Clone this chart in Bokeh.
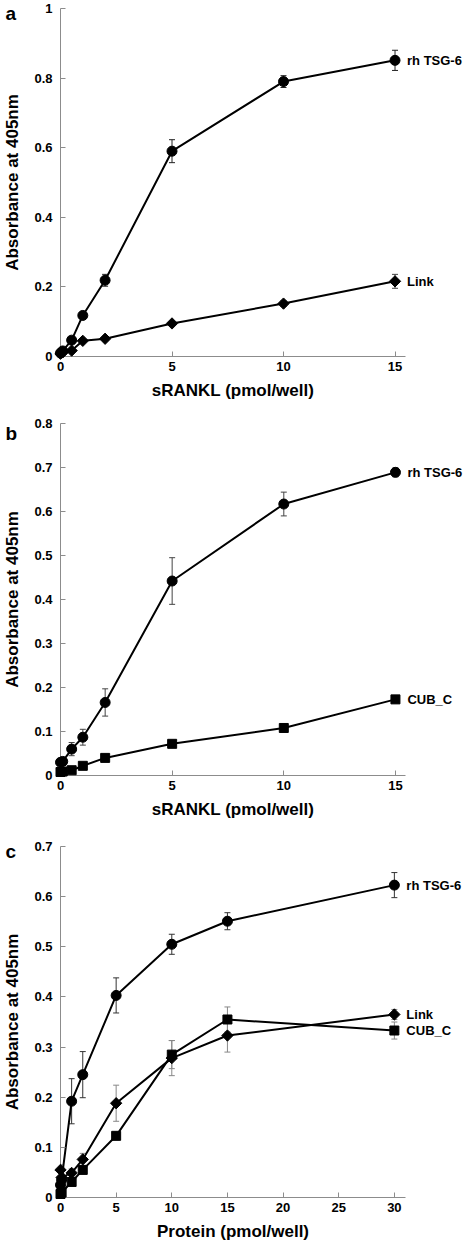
import numpy as np
from bokeh.plotting import figure
from bokeh.layouts import column
from bokeh.models import ColumnDataSource, Whisker, TeeHead, FixedTicker, Range1d
from bokeh.core.properties import value
from bokeh.embed import file_html
from bokeh.resources import INLINE

FONT = "Liberation Sans"

# ---------------- data ----------------
# panel a
a_x = [0, 0.1, 0.5, 1, 2, 5, 10, 15]
a_tsg = [0.010, 0.016, 0.047, 0.118, 0.219, 0.590, 0.790, 0.851]
a_tsg_err = [0.003, 0.004, 0.006, 0.010, 0.017, 0.033, 0.017, 0.029]
a_link = [0.008, 0.012, 0.017, 0.045, 0.051, 0.095, 0.152, 0.216]
a_link_err = [0.002, 0.002, 0.003, 0.004, 0.004, 0.006, 0.008, 0.020]
a_xticks = [0, 5, 10, 15]
a_yticks = [0, 0.2, 0.4, 0.6, 0.8, 1.0]
a_ylabels = ["0", "0.2", "0.4", "0.6", "0.8", "1"]

# panel b
b_x = [0, 0.1, 0.5, 1, 2, 5, 10, 15]
b_tsg = [0.030, 0.032, 0.060, 0.087, 0.166, 0.442, 0.617, 0.689]
b_tsg_err = [0.004, 0.004, 0.015, 0.018, 0.031, 0.053, 0.027, 0.010]
b_cub = [0.008, 0.009, 0.012, 0.022, 0.040, 0.072, 0.108, 0.173]
b_cub_err = [0.002, 0.002, 0.002, 0.003, 0.003, 0.004, 0.004, 0.005]
b_xticks = [0, 5, 10, 15]
b_yticks = [0, 0.1, 0.2, 0.3, 0.4, 0.5, 0.6, 0.7, 0.8]
b_ylabels = ["0", "0.1", "0.2", "0.3", "0.4", "0.5", "0.6", "0.7", "0.8"]

# panel c
c_x = [0, 0.1, 1, 2, 5, 10, 15, 30]
c_tsg = [0.025, 0.035, 0.192, 0.245, 0.403, 0.505, 0.551, 0.623]
c_tsg_err = [0.005, 0.006, 0.045, 0.046, 0.035, 0.020, 0.017, 0.025]
c_link = [0.055, 0.040, 0.049, 0.076, 0.188, 0.278, 0.323, 0.365]
c_link_err = [0.010, 0.008, 0.008, 0.012, 0.036, 0.035, 0.033, 0.010]
c_cub = [0.007, 0.010, 0.031, 0.055, 0.123, 0.285, 0.355, 0.333]
c_cub_err = [0.002, 0.002, 0.004, 0.005, 0.008, 0.028, 0.025, 0.017]
c_xticks = [0, 5, 10, 15, 20, 25, 30]
c_yticks = [0, 0.1, 0.2, 0.3, 0.4, 0.5, 0.6, 0.7]
c_ylabels = ["0", "0.1", "0.2", "0.3", "0.4", "0.5", "0.6", "0.7"]

# ---------------- styling ----------------
FW = 345
LEFT = 55
RIGHT = 59
BOTTOM = 47
AXIS_COLOR = "#8c8c8c"

MARKERS = {
    "circle": dict(marker="circle", size=10, angle=0.0),
    "diamond": dict(marker="square", size=8, angle=np.pi / 4),
    "square": dict(marker="square", size=9, angle=0.0),
}


def make_panel(letter, letter_dy, xs, series, x_ticks, y_ticks, y_labels,
               x_end, y_top, xtitle, top_border, fh):
    kx = FW / x_end
    ky = fh / y_top
    p = figure(frame_width=FW, frame_height=fh,
               x_range=Range1d(0, x_end),
               y_range=Range1d(0, y_top),
               output_backend="svg", toolbar_location=None,
               min_border_left=LEFT, min_border_right=RIGHT,
               min_border_top=top_border, min_border_bottom=BOTTOM)
    p.outline_line_color = None
    p.grid.visible = False
    p.background_fill_color = "white"
    p.border_fill_color = "white"

    xa = p.xaxis[0]
    ya = p.yaxis[0]
    xa.ticker = FixedTicker(ticks=x_ticks)
    ya.ticker = FixedTicker(ticks=y_ticks)
    ya.major_label_overrides = {t: l for t, l in zip(y_ticks, y_labels)}
    xa.major_label_overrides = {t: str(t) for t in x_ticks}
    for ax in (xa, ya):
        ax.axis_line_color = AXIS_COLOR
        ax.axis_line_width = 1
        ax.major_tick_line_color = AXIS_COLOR
        ax.major_tick_in = 5
        ax.major_tick_out = 0
        ax.minor_tick_line_color = None
        ax.major_label_text_font = FONT
        ax.major_label_text_font_style = "bold"
        ax.major_label_text_font_size = "13px"
        ax.major_label_text_color = "black"
        ax.axis_label_text_font = FONT
        ax.axis_label_text_font_style = "bold"
        ax.axis_label_text_font_size = "17px"
        ax.axis_label_text_color = "black"
    xa.major_label_standoff = 5
    xa.axis_label_standoff = 7
    ya.major_label_standoff = 8
    ya.axis_label_standoff = 9
    xa.axis_label = xtitle
    ya.axis_label = "Absorbance at 405nm"

    for name, ys, errs, mk, ecol in series:
        p.line(xs, ys, line_color="black", line_width=2)
        src = ColumnDataSource(dict(
            x=xs,
            upper=[v + e for v, e in zip(ys, errs)],
            lower=[v - e for v, e in zip(ys, errs)],
        ))
        w = Whisker(base="x", upper="upper", lower="lower", source=src,
                    dimension="height", line_color=ecol, line_width=1,
                    upper_head=TeeHead(size=6, line_color=ecol, line_width=1),
                    lower_head=TeeHead(size=6, line_color=ecol, line_width=1))
        p.add_layout(w)
    for name, ys, errs, mk, ecol in series:
        m = MARKERS[mk]
        r = p.scatter(xs, ys, marker=m["marker"], size=m["size"], angle=m["angle"],
                      fill_color="black", line_color="black")
        r.level = "overlay"
        t = p.text(x=[xs[-1]], y=[ys[-1]], text=[name], x_offset=12,
                   text_baseline="middle", text_align="left",
                   text_font=value(FONT), text_font_style="bold",
                   text_font_size="13px", text_color="black")
        t.level = "overlay"

    lt = p.text(x=[-LEFT / kx], y=[y_top - letter_dy / ky], text=[letter],
                text_baseline="alphabetic", text_align="left",
                text_font=value(FONT), text_font_style="bold",
                text_font_size="19px", text_color="black")
    lt.level = "overlay"
    return p


pa = make_panel("a", 5, a_x,
                [("rh TSG-6", a_tsg, a_tsg_err, "circle", "#222222"),
                 ("Link", a_link, a_link_err, "diamond", "#444444")],
                a_xticks, a_yticks, a_ylabels, 15.47, 1.0,
                "sRANKL (pmol/well)", 8, 348)
pb = make_panel("b", 10, b_x,
                [("rh TSG-6", b_tsg, b_tsg_err, "circle", "#444444"),
                 ("CUB_C", b_cub, b_cub_err, "square", "#444444")],
                b_xticks, b_yticks, b_ylabels, 15.45, 0.8,
                "sRANKL (pmol/well)", 20, 352)
pc = make_panel("c", 5, c_x,
                [("rh TSG-6", c_tsg, c_tsg_err, "circle", "#333333"),
                 ("Link", c_link, c_link_err, "diamond", "#888888"),
                 ("CUB_C", c_cub, c_cub_err, "square", "#888888")],
                c_xticks, c_yticks, c_ylabels, 31.0, 0.7,
                "Protein (pmol/well)", 24, 351)

layout = column(pa, pb, pc, spacing=0)
open("out.html", "w").write(file_html(layout, INLINE))
